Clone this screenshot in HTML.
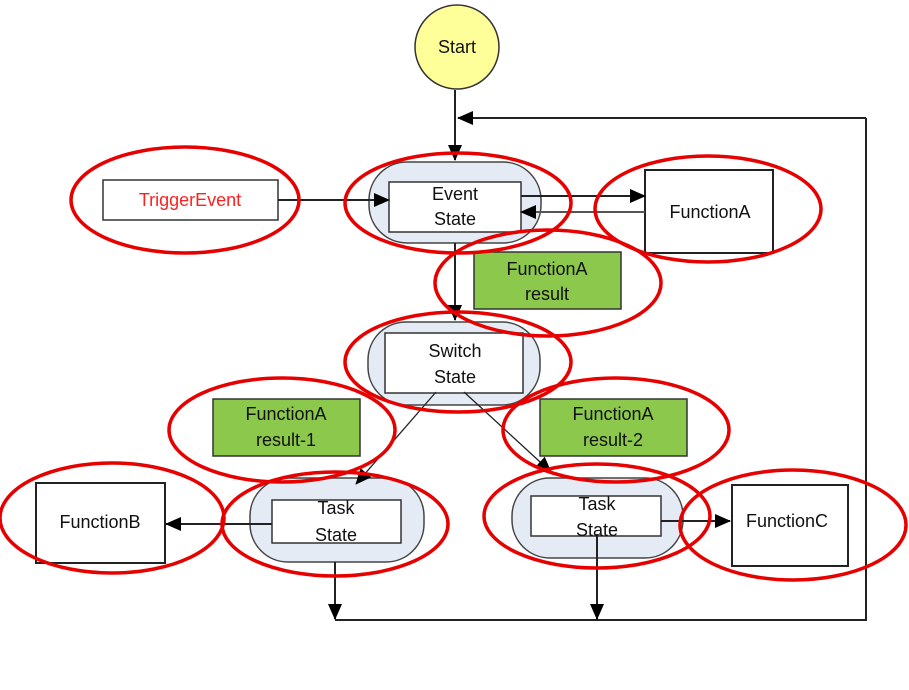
<!DOCTYPE html>
<html><head><meta charset="utf-8"><style>
html,body{margin:0;padding:0;background:#fff;}
svg{display:block;}
text{font-family:"Liberation Sans",sans-serif;font-size:18px;text-anchor:middle;fill:#111;}
</style></head><body>
<svg width="909" height="690" viewBox="0 0 909 690" xmlns="http://www.w3.org/2000/svg">
<defs>
<marker id="a" markerWidth="16" markerHeight="14" refX="15" refY="7" orient="auto" markerUnits="userSpaceOnUse">
<path d="M0,0 L16,7 L0,14 z" fill="#000"/></marker>
</defs>
<!-- start -->
<circle cx="457" cy="47" r="42" fill="#ffff99" stroke="#333" stroke-width="1.5"/>
<text x="457" y="53">Start</text>
<!-- trigger -->
<rect x="103" y="180" width="175" height="40" fill="#fff" stroke="#333" stroke-width="1.5"/>
<text x="190" y="206" style="fill:#ff2020">TriggerEvent</text>
<!-- event state -->
<rect x="369" y="162" width="172" height="81" rx="38" fill="#e4ebf5" stroke="#444" stroke-width="1.5"/>
<rect x="389" y="182" width="132" height="50" fill="#fff" stroke="#333" stroke-width="1.5"/>
<text x="455" y="200">Event</text><text x="455" y="225">State</text>
<!-- functionA -->
<rect x="645" y="170" width="128" height="83" fill="#fff" stroke="#222" stroke-width="2"/>
<text x="710" y="218">FunctionA</text>
<!-- result -->
<rect x="474" y="252" width="147" height="57" fill="#8cc84b" stroke="#333" stroke-width="1.5"/>
<text x="547" y="275">FunctionA</text><text x="547" y="300">result</text>
<!-- switch -->
<rect x="368" y="322" width="172" height="83" rx="38" fill="#e4ebf5" stroke="#444" stroke-width="1.5"/>
<rect x="385" y="333" width="138" height="60" fill="#fff" stroke="#333" stroke-width="1.5"/>
<text x="455" y="357">Switch</text><text x="455" y="383">State</text>
<!-- results 1/2 -->
<rect x="213" y="399" width="147" height="57" fill="#8cc84b" stroke="#333" stroke-width="1.5"/>
<text x="286" y="420">FunctionA</text><text x="286" y="446">result-1</text>
<rect x="540" y="399" width="147" height="57" fill="#8cc84b" stroke="#333" stroke-width="1.5"/>
<text x="613" y="420">FunctionA</text><text x="613" y="446">result-2</text>
<!-- task left -->
<rect x="250" y="478" width="174" height="84" rx="38" fill="#e4ebf5" stroke="#444" stroke-width="1.5"/>
<rect x="272" y="500" width="129" height="43" fill="#fff" stroke="#333" stroke-width="1.5"/>
<text x="336" y="514">Task</text><text x="336" y="541">State</text>
<!-- task right -->
<rect x="512" y="478" width="171" height="80" rx="38" fill="#e4ebf5" stroke="#444" stroke-width="1.5"/>
<rect x="531" y="496" width="130" height="40" fill="#fff" stroke="#333" stroke-width="1.5"/>
<text x="597" y="510">Task</text><text x="597" y="536">State</text>
<!-- functionB/C -->
<rect x="36" y="483" width="129" height="80" fill="#fff" stroke="#222" stroke-width="2"/>
<text x="100" y="528">FunctionB</text>
<rect x="732" y="485" width="116" height="81" fill="#fff" stroke="#222" stroke-width="2"/>
<text x="787" y="527">FunctionC</text>
<!-- connectors -->
<g stroke="#222" stroke-width="2" fill="none">
<line x1="455" y1="90" x2="455" y2="160" marker-end="url(#a)"/>
<polyline points="866,118 866,620 335,620"/>
<line x1="866" y1="118" x2="458" y2="118" marker-end="url(#a)"/>
<line x1="278" y1="200" x2="389" y2="200" marker-end="url(#a)"/>
<line x1="521" y1="196" x2="645" y2="196" marker-end="url(#a)"/>
<line x1="645" y1="212" x2="521" y2="212" marker-end="url(#a)" stroke="#555"/>
<line x1="455" y1="243" x2="455" y2="320" marker-end="url(#a)"/>
<line x1="436" y1="392" x2="356" y2="484" marker-end="url(#a)" stroke-width="1.3"/>
<line x1="464" y1="392" x2="551" y2="472" marker-end="url(#a)" stroke-width="1.3"/>
<line x1="272" y1="524" x2="166" y2="524" marker-end="url(#a)"/>
<line x1="661" y1="521" x2="730" y2="521" marker-end="url(#a)"/>
<line x1="335" y1="562" x2="335" y2="619" marker-end="url(#a)"/>
<line x1="597" y1="534" x2="597" y2="619" marker-end="url(#a)"/>
</g>
<!-- red ellipses -->
<g fill="none" stroke="#e60000" stroke-width="3.5">
<ellipse cx="185" cy="200" rx="114" ry="53"/>
<ellipse cx="458" cy="203" rx="113" ry="50"/>
<ellipse cx="708" cy="209" rx="113" ry="53"/>
<ellipse cx="548" cy="283" rx="113" ry="53"/>
<ellipse cx="458" cy="362" rx="113" ry="50"/>
<ellipse cx="282" cy="430" rx="113" ry="52"/>
<ellipse cx="616" cy="430" rx="113" ry="52"/>
<ellipse cx="112" cy="518" rx="112" ry="55"/>
<ellipse cx="335" cy="524" rx="113" ry="52"/>
<ellipse cx="597" cy="516" rx="113" ry="52"/>
<ellipse cx="793" cy="525" rx="113" ry="55"/>
</g>
</svg>
</body></html>
